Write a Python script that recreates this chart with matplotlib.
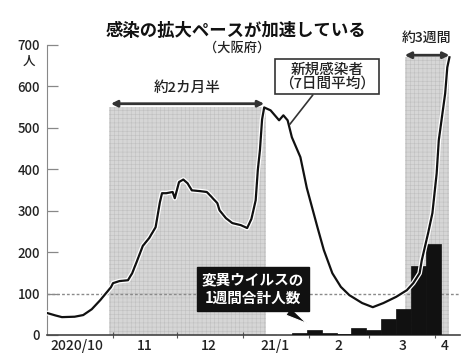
import matplotlib
matplotlib.use("Agg")
import matplotlib.pyplot as plt
import matplotlib.patheffects as pe
import numpy as np

plt.rcParams["font.family"] = ["Noto Sans CJK JP", "DejaVu Sans"]
plt.rcParams["font.weight"] = "medium"
plt.rcParams["hatch.linewidth"] = 0.4

# 新規感染者（7日間平均）
dates = np.array([
    "2020-10-01", "2020-10-05", "2020-10-08", "2020-10-14", "2020-10-18",
    "2020-10-22", "2020-10-26", "2020-10-31", "2020-11-01", "2020-11-04",
    "2020-11-08", "2020-11-10", "2020-11-12", "2020-11-15", "2020-11-18",
    "2020-11-21", "2020-11-23", "2020-11-24", "2020-11-26", "2020-11-29",
    "2020-11-30", "2020-12-02", "2020-12-04", "2020-12-06", "2020-12-08",
    "2020-12-12", "2020-12-15", "2020-12-16", "2020-12-20", "2020-12-21",
    "2020-12-24", "2020-12-27", "2020-12-31", "2021-01-03", "2021-01-05",
    "2021-01-07", "2021-01-08", "2021-01-09", "2021-01-10", "2021-01-11",
    "2021-01-14", "2021-01-16", "2021-01-18", "2021-01-20", "2021-01-22",
    "2021-01-24", "2021-01-28", "2021-01-31", "2021-02-05", "2021-02-08",
    "2021-02-12", "2021-02-16", "2021-02-20", "2021-02-26", "2021-03-03",
    "2021-03-08", "2021-03-14", "2021-03-19", "2021-03-22", "2021-03-25",
    "2021-03-26", "2021-03-29", "2021-03-31", "2021-04-02", "2021-04-03",
    "2021-04-06", "2021-04-07", "2021-04-08",
], dtype="datetime64[D]")
cases = np.array([
    53, 47, 43, 44, 48,
    62, 84, 115, 125, 130,
    132, 149, 175, 215, 234,
    260, 320, 342, 342, 345,
    330, 369, 375, 366, 349,
    347, 345, 340, 318, 301,
    282, 270, 265, 258, 280,
    325, 398, 446, 520, 549,
    542, 530, 518, 530, 518,
    477, 429, 355, 260, 205,
    149, 116, 96, 77, 67,
    77, 92, 108, 125, 149,
    180, 246, 294, 390, 470,
    583, 646, 670,
])

# 変異ウイルスの1週間合計人数（週の初日）
week_start = np.array([
    "2021-01-24", "2021-01-31", "2021-02-07", "2021-02-14", "2021-02-21",
    "2021-02-28", "2021-03-07", "2021-03-14", "2021-03-21", "2021-03-28",
], dtype="datetime64[D]")
variant = np.array([5, 12, 5, 2, 17, 12, 38, 62, 166, 219])

# 網掛け期間
span1 = np.array(["2020-10-30", "2021-01-12"], dtype="datetime64[D]")
span1_top = 550
span2 = np.array(["2021-03-18", "2021-04-08"], dtype="datetime64[D]")
span2_top = 670

month_ticks = np.array(["2020-11-01", "2020-12-01", "2021-01-01", "2021-02-01",
                        "2021-03-01", "2021-04-01"], dtype="datetime64[D]")
label_pos = np.array(["2020-10-15", "2020-11-16", "2020-12-16", "2021-01-16",
                      "2021-02-15", "2021-03-17", "2021-04-06"], dtype="datetime64[D]")
month_labels = ["2020/10", "11", "12", "21/1", "2", "3", "4"]
yticks = [0, 100, 200, 300, 400, 500, 600, 700]

fig = plt.figure(figsize=(4.61, 3.59), dpi=100)
ax = fig.add_axes([0.102, 0.067, 0.896, 0.808])

shade = dict(facecolor="#d6d6d6", edgecolor="#c0c0c0", hatch="++++", linewidth=0, zorder=1)
ax.fill_between(span1, 0, span1_top, **shade)
ax.fill_between(span2, 0, span2_top, **shade)

ax.axhline(100, color="#8a8a8a", lw=1, ls=(0, (2, 1.5)), zorder=2)

ax.bar(week_start, variant, width=np.timedelta64(7, "D"), align="edge",
       color="#111111", edgecolor="#111111", lw=0.5, zorder=3)

ax.plot(dates, cases, color="#111111", lw=1.6, zorder=4,
        path_effects=[pe.Stroke(linewidth=3.4, foreground="white"), pe.Normal()])

# 期間の矢印
arrow = dict(arrowstyle="<|-|>", color="#333333", lw=2, mutation_scale=9,
             shrinkA=0, shrinkB=0)
ax.annotate("", xy=(span1[1] - 1, span1_top + 8), xytext=(span1[0] + 1, span1_top + 8),
            arrowprops=arrow, zorder=5)
ax.annotate("", xy=(span2[1], span2_top + 5), xytext=(span2[0], span2_top + 5),
            arrowprops=arrow, zorder=5, annotation_clip=False)
ax.text(span1[0] + (span1[1] - span1[0]) / 2, 596, "約2カ月半", ha="center", va="center",
        fontsize=10.5, color="#222222")
ax.text(span2[0] + (span2[1] - span2[0]) / 2, 716, "約3週間", ha="center", va="center",
        fontsize=10, color="#222222", clip_on=False)

ax.annotate("新規感染者\n（7日間平均）", xy=(np.datetime64("2021-01-23"), 508),
            xytext=(0.678, 0.89), textcoords="axes fraction",
            ha="center", va="center", fontsize=10.5, linespacing=1.0, color="#222222",
            bbox=dict(boxstyle="square,pad=0.25", fc="white", ec="#333333", lw=1.2),
            arrowprops=dict(arrowstyle="-", color="#333333", lw=1.2, shrinkA=0, shrinkB=0),
            zorder=6)

ax.annotate("変異ウイルスの\n1週間合計人数", xy=(np.datetime64("2021-01-31"), 28),
            xytext=(0.499, 0.159), textcoords="axes fraction",
            ha="center", va="center", fontsize=10.5, fontweight="bold", linespacing=1.15,
            color="white",
            bbox=dict(boxstyle="square,pad=0.35", fc="#111111", ec="#111111"),
            arrowprops=dict(arrowstyle="wedge,tail_width=0.6", fc="#111111", ec="white",
                            lw=0.8, shrinkA=0, shrinkB=0),
            zorder=6)

fig.text(0.512, 0.913, "感染の拡大ペースが加速している", ha="center", va="center",
         fontsize=12.5, fontweight="bold", color="#111111")
fig.text(0.514, 0.868, "（大阪府）", ha="center", va="center", fontsize=9.5, color="#222222")
fig.text(0.062, 0.828, "人", ha="center", va="center", fontsize=9, color="#222222")

ax.set_xlim(np.datetime64("2020-10-01"), np.datetime64("2021-04-13"))
ax.set_ylim(0, 700)

ax.set_xticks(month_ticks)
ax.set_xticklabels([])
ax.set_xticks(label_pos, minor=True)
ax.set_xticklabels(month_labels, minor=True)
ax.tick_params(axis="x", which="major", direction="inout", length=5, color="#555555")
ax.tick_params(axis="x", which="minor", length=0, labelsize=10, pad=3, colors="#222222")

ax.set_yticks(yticks)
ax.tick_params(axis="y", direction="in", length=8, width=0.9, color="#888888",
               labelsize=9.5, labelcolor="#222222", pad=5)

for side in ("top", "right"):
    ax.spines[side].set_visible(False)
ax.spines["left"].set_color("#888888")
ax.spines["bottom"].set_color("#444444")
ax.spines["bottom"].set_linewidth(1.2)

fig.savefig("out.png", dpi=100)
